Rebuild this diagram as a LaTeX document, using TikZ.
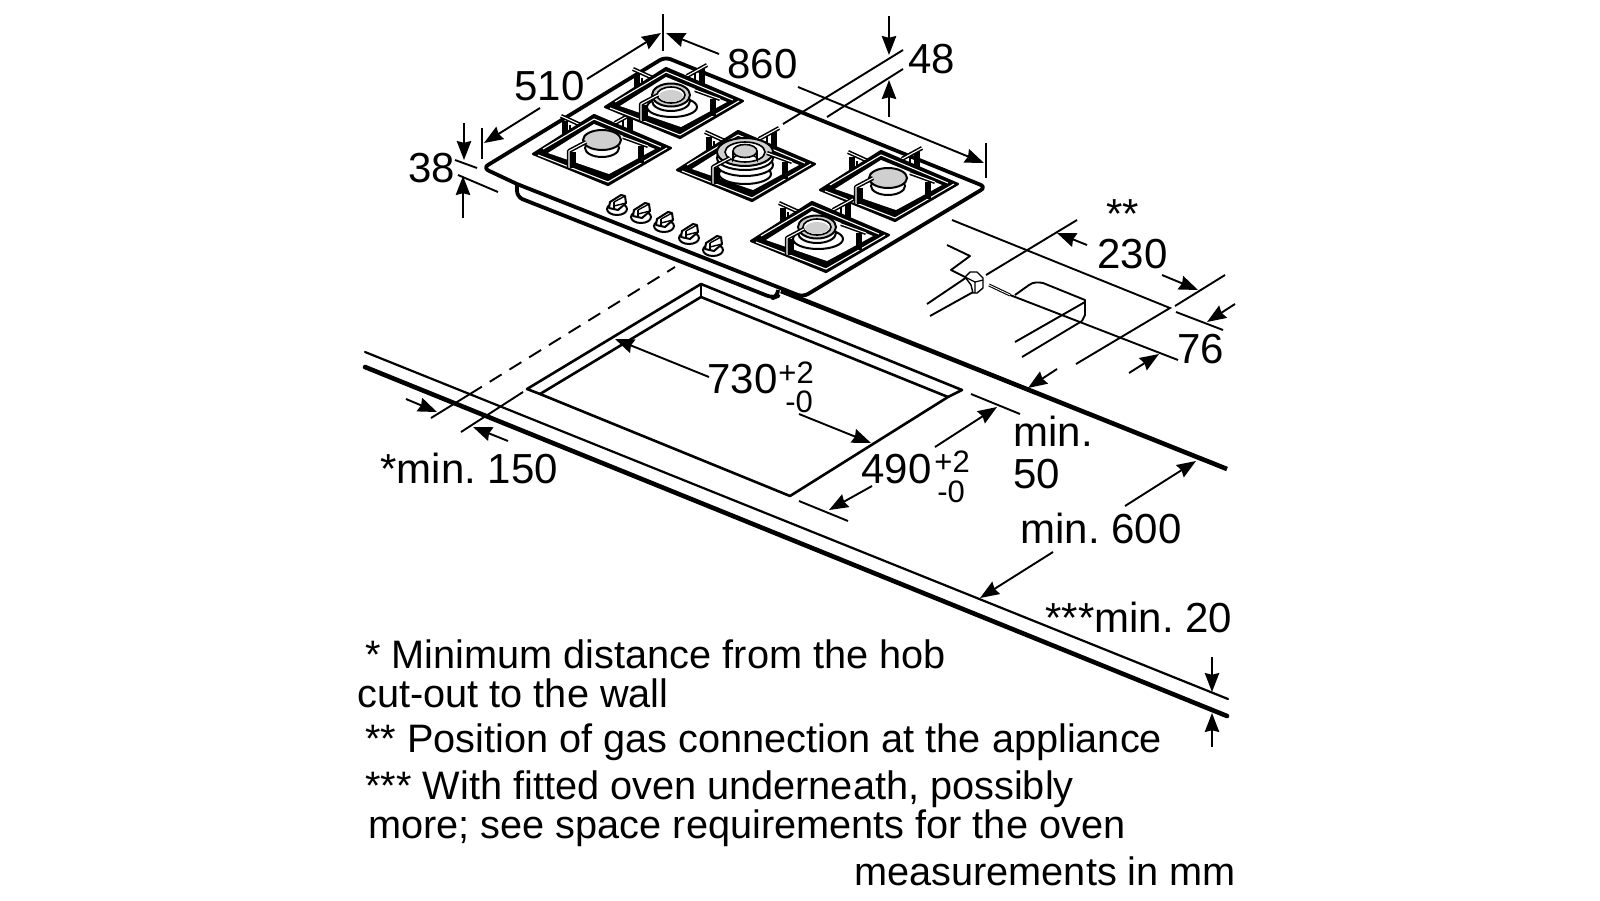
\documentclass[tikz,border=0pt]{standalone}
\usepackage{fontspec}
\setmainfont{Liberation Sans}
\usetikzlibrary{arrows.meta}
\frenchspacing
\tikzset{
  thin line/.style={line width=0.95pt,black},
  thick line/.style={line width=2.3pt,black,line cap=round},
  hob line/.style={line width=1.9pt,black,line join=round,rounded corners=3pt},
  dim/.style={line width=0.95pt,black,-{Stealth[length=9.5pt,width=7.2pt,inset=0.9pt]}},
  lab/.style={inner sep=0pt,anchor=base west,font=\fontsize{21}{24}\selectfont},
  body/.style={inner sep=0pt,anchor=base west,font=\fontsize{19.85}{24}\selectfont},
  sublab/.style={inner sep=0pt,anchor=base west,font=\fontsize{15.5}{18}\selectfont},
  burner gray/.style={fill=black!19,draw=black,line width=1pt},
  bowl/.style={fill=white,draw=black,line width=1pt},
}
\newcommand\rod[1]{\draw[black,line width=2.1pt,line join=round] #1; \draw[white,line width=0.55pt,line join=round] #1;}
\newcommand\burnerA[2]{
  \draw[bowl] (#1,#2+8) ellipse [x radius=17,y radius=9];
  \draw[burner gray] (#1,#2) ellipse [x radius=19,y radius=10];}
\newcommand\burnerB[2]{
  \draw[bowl] (#1+1,#2+12) ellipse [x radius=25,y radius=10];
  \draw[bowl] (#1,#2+6) ellipse [x radius=19,y radius=10];
  \draw[burner gray] (#1,#2) ellipse [x radius=19,y radius=11.5];
  \draw[fill=white,draw=black,line width=0.8pt] (#1,#2) ellipse [x radius=14,y radius=8];
  \fill[black!19] (#1,#2+1) ellipse [x radius=12,y radius=6];}
\newcommand\burnerC[2]{
  \draw[bowl] (#1,#2+22) ellipse [x radius=26,y radius=10];
  \draw[bowl] (#1,#2+13) ellipse [x radius=28,y radius=11];
  \draw[bowl] (#1,#2+6) ellipse [x radius=28,y radius=12];
  \draw[burner gray] (#1,#2) ellipse [x radius=28,y radius=14];
  \draw[fill=white,draw=black,line width=0.8pt] (#1,#2) ellipse [x radius=20,y radius=10];
  \draw[fill=white,draw=black,line width=0.8pt] (#1-12,#2-1) -- (#1-12,#2+7) arc [start angle=180,end angle=360,x radius=12,y radius=5] -- (#1+12,#2-1);
  \draw[burner gray,line width=0.8pt] (#1,#2-1) ellipse [x radius=12,y radius=6.5];}
\newcommand\grate[3]{
\begin{scope}[shift={(#1,#2)}]
  \draw[black,line width=2.6pt] (32,-33) -- (32,-14);
  \draw[black,line width=1pt] (37,-29) -- (37,-18);
  \draw[black,line width=2.6pt] (97,-38) -- (97,-22);
  \draw[black,line width=1pt] (90,-34) -- (90,-22);
  \rod{(28,-38) -- (50,-28)}
  \rod{(82,-31) -- (102,-42)}
  \fill[black,draw=black,line width=1.1pt,line join=round] (0,0) -- (61,-39) -- (138,-6) -- (75,31) -- cycle;
  \draw[white,line width=0.55pt] (5,1) -- (75,28) -- (134,-6);
  \fill[white] (15,-1) -- (61,-30) -- (122,-5) -- (76,20) -- cycle;
  \draw[white,line width=0.55pt] (10,-5) -- (61,-35) -- (128,-7);
  #3
  \draw[black,line width=2.8pt] (40,-2) -- (40,14);
  \rod{(53,-12) -- (36,-3) -- (36,13)}
  \draw[black,line width=3pt] (108,-8) -- (108,9);
  \rod{(90,-17) -- (115,-8)}
\end{scope}}
\newcommand\knob[2]{
\begin{scope}[shift={(#1,#2)}]
  \draw[bowl] (0,1) ellipse [x radius=10,y radius=6];
  \draw[bowl,line join=round] (-8,0) -- (-7,-6) -- (4,-13) -- (8,-12) -- (9,-5) -- (1,2) -- cycle;
  \draw[line width=0.7pt] (-3,-6) -- (-3,2);
  \draw[line width=0.7pt] (-3,-6) -- (8,-12);
  \draw[line width=0.7pt] (-3,-2) -- (1,-3) -- (9,-5);
\end{scope}}
\begin{document}
\begin{tikzpicture}[x=0.5pt,y=-0.5pt]
\useasboundingbox (0,0) rectangle (1600,900);
% hob
\draw[hob line] (517,184) -- (483,168) -- (665,57) -- (986,187) -- (803,297) -- (517,184);
\draw[hob line] (517,184) -- (517,197) -- (773,298) -- (778,296) -- (778,290);
\draw[thick line,line cap=butt] (781,291) -- (1227,469);
% grates and burners
\grate{533}{154}{\burnerA{69}{-14}}
\grate{605}{107}{\burnerB{66}{-12}}
\grate{677}{170}{\burnerC{68}{-18}}
\grate{820}{190}{\burnerA{68}{-12}}
\grate{751}{241}{\burnerB{66}{-14}}
% knobs
\knob{617}{208}\knob{641}{216}\knob{664}{225}\knob{689}{237}\knob{713}{249}
% cut-out
\draw[line width=1.3pt,line join=round] (527,389) -- (701,284) -- (962,390) -- (948,397) -- (790,496) -- (540,394) -- cycle;
\draw[line width=1.3pt,line join=round] (540,394) -- (701,297) -- (948,397);
\draw[line width=1pt] (701,284) -- (701,297);
% worktop front
\draw[line width=1.1pt,line cap=round] (365,352) -- (1228,699);
\draw[thick line] (365,367) -- (1227,716);
% wall dashed and extensions
\draw[thin line,dash pattern=on 7pt off 4.6pt] (470,394) -- (675,267);
\draw[thin line] (431,418) -- (470,394);
\draw[thin line] (461,432) -- (523,392);
\draw[dim] (406,399) -- (437,412);
\draw[dim] (508,441) -- (473,427);
% 730 / 490
\draw[dim] (709,377) -- (615,339);
\draw[dim] (799,414) -- (871,443);
\draw[dim] (935,447) -- (997,407);
\draw[dim] (872,486) -- (829,510);
\draw[thin line] (971,394) -- (1020,414);
\draw[thin line] (799,501) -- (848,521);
% min 600
\draw[dim] (1125,506) -- (1196,461);
\draw[dim] (1053,552) -- (980,598);
% min 20
\draw[dim] (1212,657) -- (1212,692);
\draw[dim] (1212,747) -- (1212,713);
% 38
\draw[thin line] (455,160) -- (477,168);
\draw[thin line] (458,175) -- (498,192);
\draw[dim] (464,123) -- (464,160);
\draw[dim] (463,218) -- (463,176);
% 510 / 860
\draw[thin line] (482,128) -- (482,159);
\draw[dim] (540,108) -- (484,143);
\draw[dim] (587,79) -- (661,33);
\draw[thin line] (663,14) -- (663,51);
\draw[dim] (719,54) -- (666,33);
\draw[thin line] (986,143) -- (986,178);
\draw[dim] (798,87) -- (984,163);
% 48
\draw[thin line] (783,124) -- (903,50);
\draw[thin line] (827,117) -- (903,69);
\draw[dim] (889,16) -- (889,55);
\draw[dim] (889,117) -- (889,80);
% gas connection
\draw[thin line] (952,220) -- (1170,308) -- (1076,364);
\draw[thin line] (1077,220) -- (986,275);
\draw[dim] (1087,245) -- (1057,233);
\draw[dim] (1162,275) -- (1198,290);
\draw[thin line] (1225,275) -- (1175,306);
\draw[thin line] (1176,312) -- (1223,330);
\draw[dim] (1235,304) -- (1207,322);
\draw[dim] (1129,373) -- (1159,354);
\draw[thin line] (1010,295) -- (1178,360);
\draw[thin line] (927,304) -- (967,277);
\draw[thin line] (930,316) -- (975,291);
\draw[thin line,line join=round] (947,245) -- (970,256) -- (951,270) -- (965,277);
\draw[line width=0.7pt,fill=white,line join=round] (965,277) -- (970,272) -- (977,272) -- (983,278) -- (983,288) -- (977,293) -- (973,293) -- (971,285) -- cycle;
\draw[line width=0.6pt] (965,277) -- (975,282) -- (975,293);
\draw[line width=0.6pt] (975,282) -- (983,280);
\draw[line width=1.5pt] (989,285) -- (1010,295);
\draw[white,line width=0.4pt] (989,285) -- (1010,295);
\draw[thin line,line join=round] (1015,295) -- (1029,285) .. controls (1033,282) and (1038,282) .. (1043,283) -- (1085,300) -- (1085,315) -- (1082,321);
\draw[thin line] (1085,302) -- (1015,342);
\draw[thin line] (1082,321) -- (1022,357);
\draw[dim] (1057,369) -- (1028,388);
% labels
\node[lab] (l510) at (514,100) {510};
\node[lab] (l860) at (727,78) {860};
\node[lab] (l48) at (908,73) {48};
\node[lab] (l38) at (408,182) {38};
\node[lab] (lss) at (1106,228) {**};
\node[lab] (l230) at (1097,268) {230};
\node[lab] (l76) at (1177,363) {76};
\node[lab] (l730) at (707,393) {730};
\node[sublab] (l730a) at (778,383) {+2};
\node[sublab] (l730b) at (785,412) {-0};
\node[lab] (l490) at (861,483) {490};
\node[sublab] (l490a) at (934,472) {+2};
\node[sublab] (l490b) at (937,502) {-0};
\node[lab] (lmin) at (1013,446) {min.};
\node[lab] (l50) at (1013,488) {50};
\node[lab] (lm600) at (1020,543) {min. 600};
\node[lab] (lm20) at (1045,632) {***min. 20};
\node[lab] (lm150) at (380,483) {*min. 150};
\node[body] (t1) at (365,668) {* Minimum distance from the hob};
\node[body] (t2) at (357,707) {cut-out to the wall};
\node[body] (t3) at (365,752) {** Position of gas connection at the appliance};
\node[body] (t4) at (365,799) {*** With fitted oven underneath, possibly};
\node[body] (t5) at (368,838) {more; see space requirements for the oven};
\node[body] (t6) at (854,885) {measurements in mm};
\end{tikzpicture}
\end{document}
